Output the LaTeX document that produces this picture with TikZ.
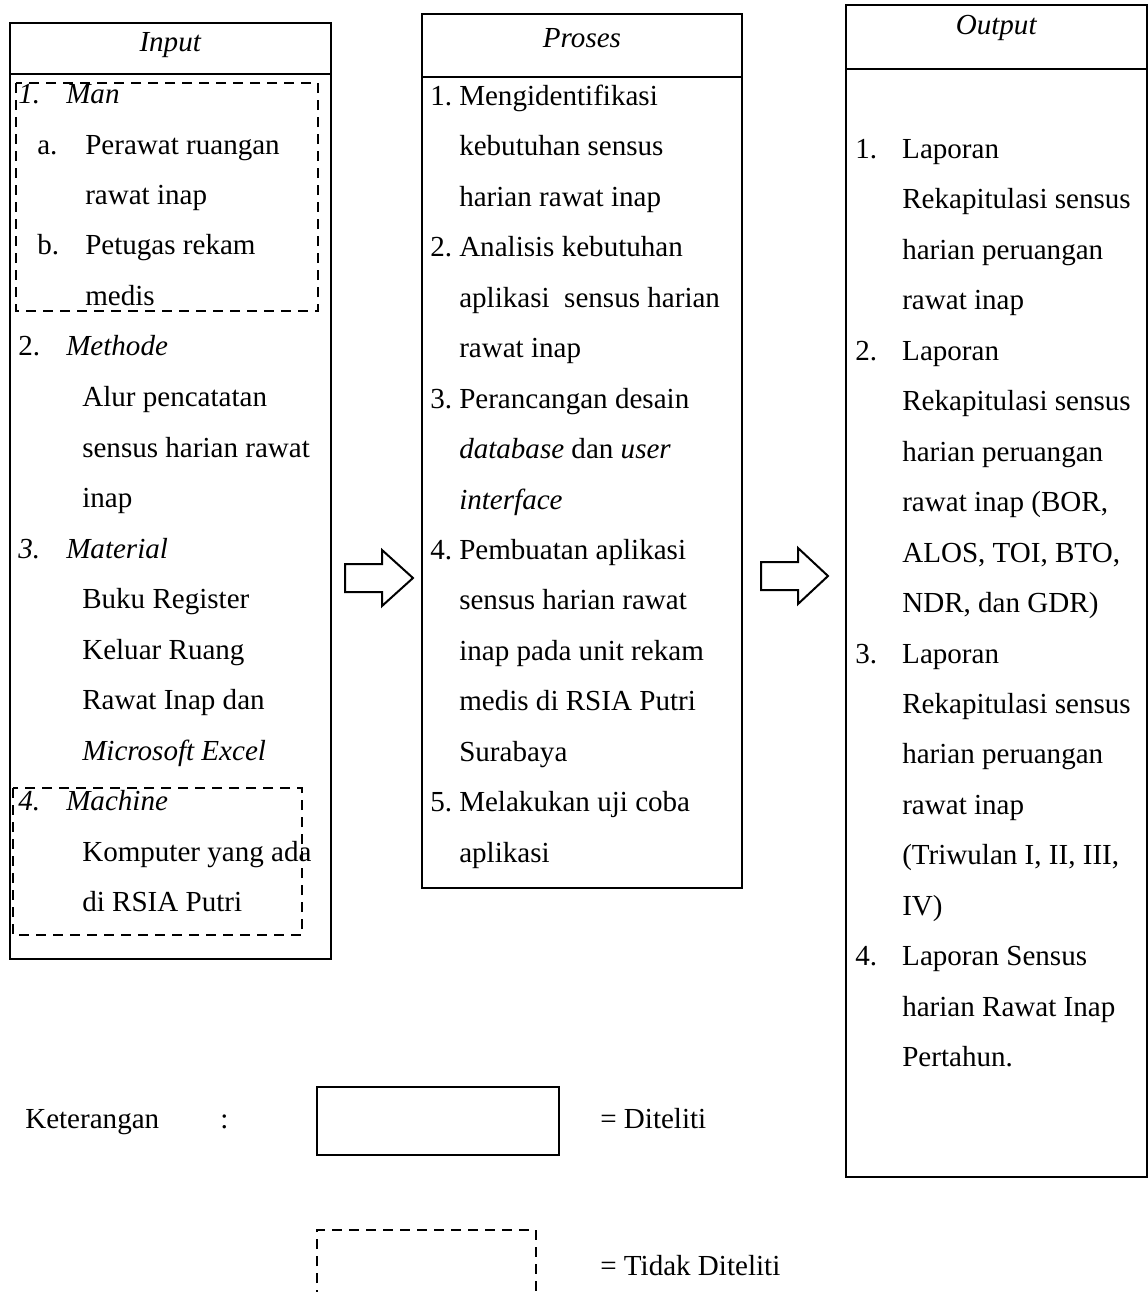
\documentclass[tikz,border=0pt]{standalone}
\usepackage{fontspec}
\setmainfont{Liberation Serif}
\usepackage{tikz}
\newcommand{\numbox}[2]{\makebox[#1][l]{#2}}

\begin{document}
\begin{tikzpicture}[x=0.75pt,y=0.75pt,yscale=-1,xscale=1,
  font=\fontsize{21.8pt}{26pt}\selectfont,
  line/.style={line width=1.5pt},
  notdone/.style={line width=1.4pt,dash pattern=on 7.5pt off 5.25pt},
  txt/.style={anchor=base west,inner sep=0pt},
  head/.style={anchor=base,inner sep=0pt}]
\useasboundingbox (0,0) rectangle (1148,1292);

%Shape: Rectangle [input]
\draw [line] (10,23) rectangle (331,959) ;
\draw [line] (10,74) -- (331,74) ;
%Shape: Rectangle [proses]
\draw [line] (422,14) rectangle (742,888) ;
\draw [line] (422,77) -- (742,77) ;
%Shape: Rectangle [output]
\draw [line] (846,5) rectangle (1147,1177) ;
\draw [line] (846,69) -- (1147,69) ;
%Shape: Dashed Rectangle [man]
\draw [notdone] (16,83) rectangle (318,311) ;
%Shape: Dashed Rectangle [machine]
\draw [notdone] (13,788) rectangle (302,935) ;
%Shape: Right Arrow
\draw [line] (345,564) -- (382,564) -- (382,550) -- (413,578) -- (382,606) -- (382,592) -- (345,592) -- cycle ;
%Shape: Right Arrow
\draw [line] (761,562) -- (798,562) -- (798,548) -- (828,576) -- (798,604) -- (798,590) -- (761,590) -- cycle ;

% Text Node
\node [head] (inhead) at (170.5,51) {\textit{Input}};
\node [head] (prhead) at (582,47) {\textit{Proses}};
\node [head] (outhead) at (996.5,34) {\textit{Output}};

% Text Node (input)
\node [txt] (in1) at (18,103) {\numbox{36pt}{\textit{1.}}\textit{Man}};
\node [txt] (in1a) at (37,154) {\numbox{36pt}{a.}Perawat ruangan};
\node [txt] (in1a2) at (85,204) {rawat inap};
\node [txt] (in1b) at (37,254) {\numbox{36pt}{b.}Petugas rekam};
\node [txt] (in1b2) at (85,305) {medis};
\node [txt] (in2) at (18,355) {\numbox{36pt}{2.}\textit{Methode}};
\node [txt] (in2a) at (82,406) {Alur pencatatan};
\node [txt] (in2b) at (82,457) {sensus harian rawat};
\node [txt] (in2c) at (82,507) {inap};
\node [txt] (in3) at (18,558) {\numbox{36pt}{\textit{3.}}\textit{Material}};
\node [txt] (in3a) at (82,608) {Buku Register};
\node [txt] (in3b) at (82,659) {Keluar Ruang};
\node [txt] (in3c) at (82,709) {Rawat Inap dan};
\node [txt] (in3d) at (82,760) {\textit{Microsoft Excel}};
\node [txt] (in4) at (18,810) {\numbox{36pt}{\textit{4.}}\textit{Machine}};
\node [txt] (in4a) at (82,861) {Komputer yang ada};
\node [txt] (in4b) at (82,911) {di RSIA Putri};

% Text Node (proses)
\node [txt] (pr1) at (430,105) {\numbox{21.75pt}{1.}Mengidentifikasi};
\node [txt] (pr1a) at (459,155.5) {kebutuhan sensus};
\node [txt] (pr1b) at (459,206) {harian rawat inap};
\node [txt] (pr2) at (430,256) {\numbox{21.75pt}{2.}Analisis kebutuhan};
\node [txt] (pr2a) at (459,307) {aplikasi\ \ sensus harian};
\node [txt] (pr2b) at (459,357) {rawat inap};
\node [txt] (pr3) at (430,408) {\numbox{21.75pt}{3.}Perancangan desain};
\node [txt] (pr3a) at (459,458) {\textit{database} dan \textit{user}};
\node [txt] (pr3b) at (459,509) {\textit{interface}};
\node [txt] (pr4) at (430,559) {\numbox{21.75pt}{4.}Pembuatan aplikasi};
\node [txt] (pr4a) at (459,609) {sensus harian rawat};
\node [txt] (pr4b) at (459,660) {inap pada unit rekam};
\node [txt] (pr4c) at (459,710) {medis di RSIA Putri};
\node [txt] (pr4d) at (459,761) {Surabaya};
\node [txt] (pr5) at (430,811) {\numbox{21.75pt}{5.}Melakukan uji coba};
\node [txt] (pr5a) at (459,862) {aplikasi};

% Text Node (output)
\node [txt] (out1) at (855,158) {\numbox{35.25pt}{1.}Laporan};
\node [txt] (out1a) at (902,208) {Rekapitulasi sensus};
\node [txt] (out1b) at (902,259) {harian peruangan};
\node [txt] (out1c) at (902,309) {rawat inap};
\node [txt] (out2) at (855,360) {\numbox{35.25pt}{2.}Laporan};
\node [txt] (out2a) at (902,410) {Rekapitulasi sensus};
\node [txt] (out2b) at (902,461) {harian peruangan};
\node [txt] (out2c) at (902,511) {rawat inap (BOR,};
\node [txt] (out2d) at (902,562) {ALOS, TOI, BTO,};
\node [txt] (out2e) at (902,612) {NDR, dan GDR)};
\node [txt] (out3) at (855,663) {\numbox{35.25pt}{3.}Laporan};
\node [txt] (out3a) at (902,713) {Rekapitulasi sensus};
\node [txt] (out3b) at (902,763) {harian peruangan};
\node [txt] (out3c) at (902,814) {rawat inap};
\node [txt] (out3d) at (902,864) {(Triwulan I, II, III,};
\node [txt] (out3e) at (902,915) {IV)};
\node [txt] (out4) at (855,965) {\numbox{35.25pt}{4.}Laporan Sensus};
\node [txt] (out4a) at (902,1016) {harian Rawat Inap};
\node [txt] (out4b) at (902,1066) {Pertahun.};

%Shape: Legend
\node [txt] (ket) at (25,1128) {Keterangan};
\node [txt] (colon) at (220,1128) {:};
\draw [line] (317,1087) rectangle (559,1155) ;
\node [txt] (diteliti) at (600,1128) {= Diteliti};
\draw [notdone] (317,1300) -- (317,1230) -- (536,1230) -- (536,1300) ;
\node [txt] (tidak) at (600,1275) {= Tidak Diteliti};

\end{tikzpicture}
\end{document}
